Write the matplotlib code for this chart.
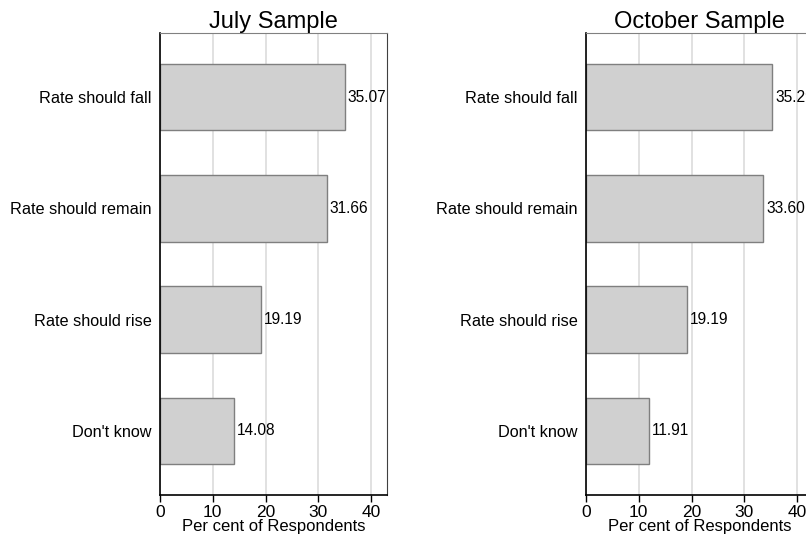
import numpy as np
import matplotlib.pyplot as plt

plt.rcParams['font.family'] = ['Liberation Sans', 'DejaVu Sans']

categories = ["Rate should fall", "Rate should remain", "Rate should rise", "Don't know"]
july = [35.07, 31.66, 19.19, 14.08]
october = [35.29, 33.60, 19.19, 11.91]
titles = ["July Sample", "October Sample"]
xticks = [0, 10, 20, 30, 40]

W, H = 806, 543
fig = plt.figure(figsize=(W / 100, H / 100), dpi=100)
# axes boxes in pixels: left, top, right, bottom
boxes = [(160, 33, 387, 495), (586, 33, 813, 495)]

ypos = np.array([4, 3, 2, 1])
for (l, t, r, b), vals, title in zip(boxes, [july, october], titles):
    ax = fig.add_axes([l / W, 1 - b / H, (r - l) / W, (b - t) / H])
    ax.barh(ypos, vals, height=0.6, color='#d0d0d0', edgecolor='#7f7f7f', linewidth=1, zorder=2)
    for y, v in zip(ypos, vals):
        ax.text(v + 0.5, y, f"{v:.2f}", va='center', ha='left', fontsize=11.2, zorder=3)
    ax.set_xlim(0, 43)
    ax.set_ylim(0.425, 4.575)
    ax.set_yticks(ypos)
    ax.set_yticklabels(categories, fontsize=11.7)
    ax.tick_params(axis='y', length=0, pad=6)
    ax.set_xticks(xticks)
    ax.tick_params(axis='x', length=5, width=1, labelsize=12.5, pad=2.5)
    ax.xaxis.grid(True, color='#dcdcdc', linewidth=1.2, zorder=0)
    ax.set_axisbelow(True)
    for s in ['left', 'bottom']:
        ax.spines[s].set_color('black')
        ax.spines[s].set_linewidth(1.2)
    ax.spines['top'].set_color('#808080')
    ax.spines['right'].set_color('#404040')
    ax.set_xlabel("Per cent of Respondents", fontsize=12, labelpad=-1)
    ax.set_title(title, fontsize=17, pad=3)

fig.savefig("out.png", dpi=100)
